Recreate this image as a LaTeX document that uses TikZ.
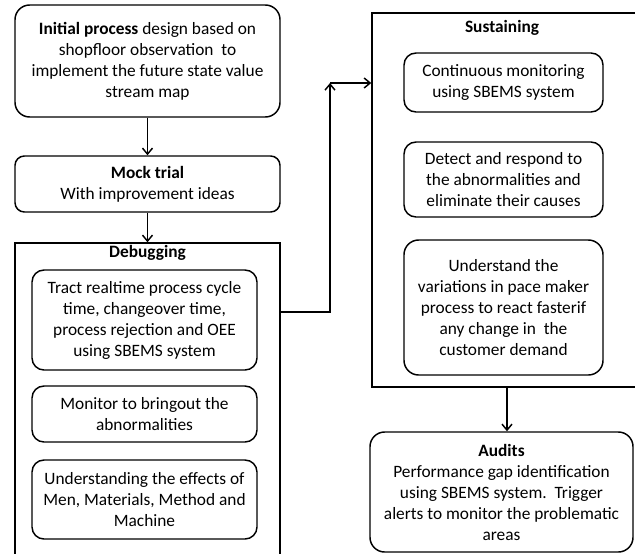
\documentclass[tikz,border=0pt]{standalone}
\usepackage{fontspec}
\setmainfont{Carlito}
\usepackage{tikz}
\usetikzlibrary{arrows.meta,calc,positioning}
\tikzset{
  flow/.style={-{Straight Barb[length=4.5pt,width=7.5pt]},line width=1.1pt},
  stepbox/.style={draw=black,line width=1.1pt,rounded corners=9pt,fill=white,
                  inner sep=0pt,align=center,font=\fontsize{13pt}{15.75pt}\selectfont},
  phase/.style={draw=black,line width=1.1pt,inner sep=0pt},
  phasetitle/.style={font=\fontsize{13pt}{15.75pt}\selectfont\bfseries},
}

\begin{document}
\begin{tikzpicture}[x=0.75pt,y=-0.75pt]
  \clip (0,0) rectangle (635,553);

  \node[stepbox,rounded corners=11pt,minimum width=198.75pt,minimum height=84pt] (init) at (147.5,61)
    {\textbf{Initial process} design based on\\shopfloor observation\ \ to\\implement the future state value\\stream map};
  \node[stepbox,rounded corners=7pt,minimum width=198.75pt,minimum height=42pt] (mock) at (147.5,184)
    {\textbf{Mock trial}\\With improvement ideas};

  \node[phase,minimum width=198.75pt,minimum height=267.75pt] (debug) at (147.5,421.5) {};
  \node[phasetitle] (debugtitle) at (147.5,253) {Debugging};
  \node[stepbox,minimum width=168.75pt,minimum height=75pt] (track) at (144.5,320)
    {Tract realtime process cycle\\time, changeover time,\\process rejection and OEE\\using SBEMS system};
  \node[stepbox,minimum width=168.75pt,minimum height=42pt] (monitor) at (144.5,414)
    {Monitor to bringout the\\abnormalities};
  \node[stepbox,minimum width=168.75pt,minimum height=59.25pt] (effects) at (144.5,499.5)
    {Understanding the effects of\\Men, Materials, Method and\\Machine};

  \node[phase,minimum width=202.5pt,minimum height=280.5pt] (sus) at (507,200) {};
  \node[phasetitle] (sustitle) at (502,28) {Sustaining};
  \node[stepbox,minimum width=149.25pt,minimum height=44.25pt] (contmon) at (503.5,82.5)
    {Continuous monitoring\\using SBEMS system};
  \node[stepbox,minimum width=149.25pt,minimum height=56.25pt] (detect) at (503.5,179.5)
    {Detect and respond to\\the abnormalities and\\eliminate their causes};
  \node[stepbox,rounded corners=11pt,minimum width=149.25pt,minimum height=101.25pt] (pace) at (503.5,307.5)
    {Understand the\\variations in pace maker\\process to react fasterif\\any change in\ \ the\\customer demand};

  \node[stepbox,rounded corners=11pt,minimum width=197.25pt,minimum height=90pt] (audits) at (501.5,492)
    {\textbf{Audits}\\Performance gap identification\\using SBEMS system.\ \ Trigger\\alerts to monitor the problematic\\areas};

  \coordinate (out) at (280,312);
  \coordinate (turn) at (330,83);
  \draw[flow] (init.south) -- (mock.north);
  \draw[flow] (mock.south) -- (debug.north);
  \draw[flow] (out) -| (turn);
  \draw[flow] (turn) -- (turn -| sus.west);
  \draw[flow] (sus.south) -- (sus.south |- audits.north);
\end{tikzpicture}
\end{document}
